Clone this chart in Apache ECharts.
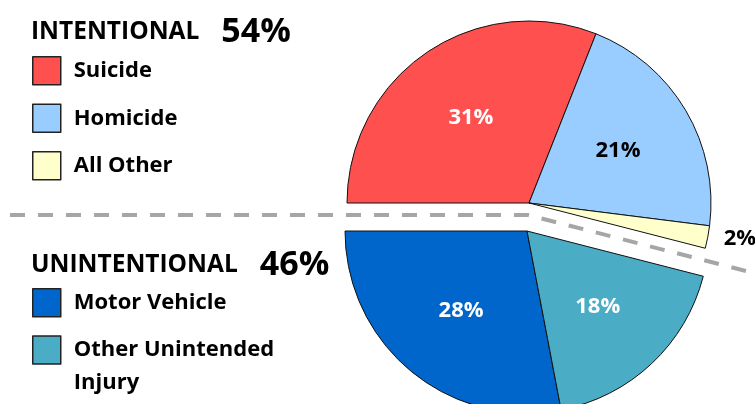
<!DOCTYPE html>
<html>
<head>
<meta charset="utf-8">
<script src="https://cdn.jsdelivr.net/npm/echarts@6/dist/echarts.min.js"></script>
<style>
  html, body { margin: 0; padding: 0; background: #fff; }
  #chart { width: 755px; height: 404px; }
</style>
</head>
<body>
<div id="chart"></div>
<script>
// intentional half (top)
const intentNames = ['Suicide', 'Homicide', 'All Other']
const intentValues = [31, 21, 2]
const intentColors = ['#FF5050', '#99CCFF', '#FFFFCC']
const intentLabelColors = ['#fff', '#000', '#000']
// unintentional half (bottom)
const unintentNames = ['Motor Vehicle', 'Other Unintended Injury']
const unintentValues = [28, 18]
const unintentColors = ['#0066CC', '#4BACC6']
const unintentLabelColors = ['#fff', '#fff']

const FONT = 'Open Sans'
const CX = 528, CY = 217, GAP = 14, R = 182
const centers = [[CX + 1, CY - GAP], [CX - 1, CY + GAP]]

const sum = a => a.reduce((s, v) => s + v, 0)
const intentTotal = sum(intentValues)
const unintentTotal = sum(unintentValues)

function makeData(names, values, colors, labelColors, rest) {
  const d = names.map((n, i) => ({
    name: n,
    value: values[i],
    itemStyle: { color: colors[i] },
    label: { color: labelColors[i] }
  }))
  d.push({
    name: '',
    value: rest,
    itemStyle: { color: 'transparent', borderWidth: 0 },
    label: { show: false },
    labelLine: { show: false },
    emphasis: { disabled: true }
  })
  return d
}

const intentData = makeData(intentNames, intentValues, intentColors, intentLabelColors, unintentTotal)
// small slice label sits outside
intentData[2].label = { position: 'outside', color: '#000', overflow: 'none', distanceToLabelLine: 2 }
intentData[2].labelLine = { show: false, length: 8, length2: 6 }
const unintentData = makeData(unintentNames, unintentValues, unintentColors, unintentLabelColors, intentTotal)

// split line follows the boundary between the two halves
const boundaryDeg = 180 - 360 * intentTotal / (intentTotal + unintentTotal)
const rad = boundaryDeg * Math.PI / 180
const endX = 755
const endY = CY - (endX - CX) * Math.tan(rad)

const chart = echarts.init(document.getElementById('chart'))
const pieBase = {
  type: 'pie',
  radius: R,
  startAngle: 180,
  animation: false,
  silent: true,
  itemStyle: { borderColor: '#111', borderWidth: 1 },
  label: {
    show: true,
    position: 'inside',
    formatter: '{c}%',
    fontFamily: FONT,
    fontWeight: 'bold',
    fontSize: 22
  },
  labelLine: { show: false, length: 4, length2: 4 },
  // push inside labels a little further out than the default half radius
  labelLayout: function (p) {
    if (p.seriesIndex === 0 && p.dataIndex === 2) return {}
    const c = centers[p.seriesIndex]
    const lx = p.labelRect.x + p.labelRect.width / 2
    const ly = p.labelRect.y + p.labelRect.height / 2
    const k = 1.1
    return {
      x: c[0] + (lx - c[0]) * k,
      y: c[1] + (ly - c[1]) * k,
      align: 'center',
      verticalAlign: 'middle'
    }
  }
}

const titleRich = {
  a: { fontFamily: FONT, fontWeight: 'bold', fontSize: 24.5, color: '#000' },
  b: { fontFamily: FONT, fontWeight: 'bold', fontSize: 34, color: '#000', padding: [0, 0, 0, 22] }
}
const legendText = { fontFamily: FONT, fontWeight: 'bold', fontSize: 22, color: '#000', padding: [0, 0, 0, 8] }

chart.setOption({
  title: [
    {
      text: '{a|INTENTIONAL}{b|' + intentTotal + '%}',
      left: 31, top: 15, padding: 0,
      textStyle: { rich: titleRich }
    },
    {
      text: '{a|UNINTENTIONAL}{b|' + unintentTotal + '%}',
      left: 31, top: 248, padding: 0,
      textStyle: { rich: titleRich }
    }
  ],
  legend: [
    {
      data: intentNames,
      orient: 'vertical',
      left: 32, top: 56, padding: 0, height: 200,
      itemWidth: 28, itemHeight: 28, itemGap: 18,
      icon: 'rect',
      selectedMode: false,
      itemStyle: { borderColor: '#222', borderWidth: 1.5 },
      textStyle: legendText
    },
    {
      data: unintentNames,
      orient: 'vertical',
      left: 32, top: 288, padding: 0, height: 200,
      itemWidth: 28, itemHeight: 28, itemGap: -1,
      icon: 'rect',
      selectedMode: false,
      // an empty first line balances the wrapped second line so the
      // first text line stays level with the swatch
      formatter: n => n.indexOf('Unintended ') > 0
        ? '{e| }\n{t|' + n.replace('Unintended ', 'Unintended}\n{t|') + '}'
        : n,
      itemStyle: { borderColor: '#222', borderWidth: 1.5 },
      textStyle: Object.assign({}, legendText, {
        rich: {
          e: { fontSize: 1, lineHeight: 33 },
          t: { fontFamily: FONT, fontWeight: 'bold', fontSize: 22, color: '#000', lineHeight: 33 }
        }
      })
    }
  ],
  graphic: [
    {
      type: 'polyline',
      silent: true,
      z: 0,
      shape: { points: [[10, CY - 2], [CX, CY - 2], [endX, endY - 2]] },
      style: { stroke: '#A6A6A6', lineWidth: 4, lineDash: [15, 13], fill: null }
    }
  ],
  series: [
    Object.assign({}, pieBase, {
      center: centers[0],
      clockwise: true,
      data: intentData
    }),
    Object.assign({}, pieBase, {
      center: centers[1],
      clockwise: false,
      data: unintentData
    })
  ]
})
</script>
</body>
</html>
